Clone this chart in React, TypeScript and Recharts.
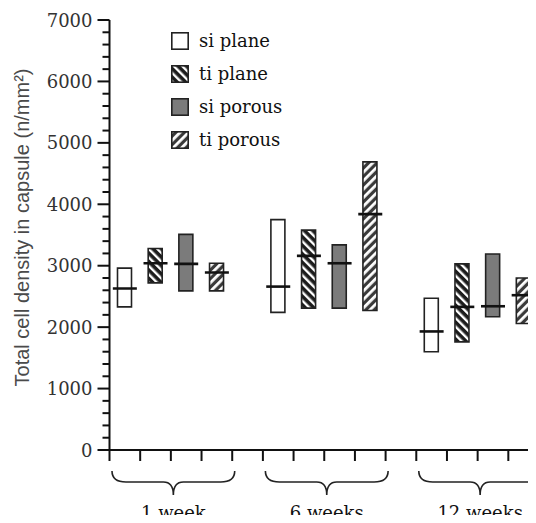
import React from 'react';
import {
  ComposedChart,
  Bar,
  Scatter,
  Cell,
  XAxis,
  YAxis,
  Legend,
  ReferenceArea,
} from 'recharts';

// ---- data ----
const groups = ['1 week', '6 weeks', '12 weeks'];
const series = ['si plane', 'ti plane', 'si porous', 'ti porous'];

// per series, one value per group
const siPlaneLow = [2330, 2240, 1600];
const siPlaneHigh = [2960, 3750, 2470];
const siPlaneMedian = [2630, 2660, 1930];

const tiPlaneLow = [2720, 2310, 1760];
const tiPlaneHigh = [3280, 3580, 3030];
const tiPlaneMedian = [3040, 3160, 2330];

const siPorousLow = [2590, 2310, 2170];
const siPorousHigh = [3510, 3340, 3190];
const siPorousMedian = [3030, 3040, 2340];

const tiPorousLow = [2590, 2270, 2060];
const tiPorousHigh = [3040, 4690, 2800];
const tiPorousMedian = [2890, 3840, 2520];

const yTicks = Array.from({ length: 36 }, (_, i) => i * 200);
const yDomain = [0, 7000];

// ---- derived ----
const lows = [siPlaneLow, tiPlaneLow, siPorousLow, tiPorousLow];
const highs = [siPlaneHigh, tiPlaneHigh, siPorousHigh, tiPorousHigh];
const medians = [siPlaneMedian, tiPlaneMedian, siPorousMedian, tiPorousMedian];

const step = series.length + 1;
const xMax = groups.length * step - 1;
const xTicks = Array.from({ length: xMax + 1 }, (_, i) => i);

const rows = groups.flatMap((g, gi) =>
  series.map((s, si) => ({
    x: gi * step + si + 0.5,
    range: [lows[si][gi], highs[si][gi]],
    median: medians[si][gi],
    series: si,
    name: s,
    group: g,
  }))
);

const fills = ['#ffffff', 'url(#tiPlanePat)', '#7b7b7b', 'url(#tiPorousPat)'];
const serifFont = '"DejaVu Serif", serif';

const YTick = (props: any) => {
  const { x, y, payload } = props;
  const major = payload.value % 1000 === 0;
  return (
    <g>
      <line x1={x - (major ? 12 : 7)} x2={x} y1={y} y2={y} stroke="#111" strokeWidth={2} />
      {major && (
        <text x={x - 17} y={y + 6.5} textAnchor="end" fontFamily={serifFont} fontSize={18} fill="#333">
          {payload.value}
        </text>
      )}
    </g>
  );
};

const YLabel = (props: any) => {
  const vb = props.viewBox || { x: 0, y: 0, width: 0, height: 0 };
  const cx = vb.x + 12.5;
  const cy = vb.y + vb.height / 2 - 7.5;
  return (
    <text
      x={cx}
      y={cy}
      transform={`rotate(-90, ${cx}, ${cy})`}
      textAnchor="middle"
      dominantBaseline="central"
      fontFamily='"Liberation Sans", Arial, sans-serif'
      fontSize={20}
      fill="#4a4a4a"
    >
      Total cell density in capsule (n/mm²)
    </text>
  );
};

const Brace = (props: any) => {
  const { x, y, width, height, label } = props;
  const baseY = y + height;
  const L = x + 2.5;
  const R = x + width + 2.5;
  const M = (L + R) / 2;
  const y0 = baseY + 21;
  const y1 = baseY + 32;
  const y2 = baseY + 45;
  const d = `M ${L} ${y0} Q ${L} ${y1} ${L + 14} ${y1} L ${M - 10} ${y1} Q ${M} ${y1} ${M} ${y2} Q ${M} ${y1} ${M + 10} ${y1} L ${R - 14} ${y1} Q ${R} ${y1} ${R} ${y0}`;
  return (
    <g>
      <path d={d} fill="none" stroke="#222" strokeWidth={1.6} />
      <text x={M} y={baseY + 69} textAnchor="middle" fontFamily={serifFont} fontSize={18} fill="#111">
        {label}
      </text>
    </g>
  );
};

const MedianMark = (props: any) => {
  const { cx, cy } = props;
  if (cx == null || cy == null) return <g />;
  return <line x1={cx - 12} x2={cx + 12} y1={cy} y2={cy} stroke="#111" strokeWidth={2.6} />;
};

const LegendContent = () => (
  <div style={{ fontFamily: serifFont, fontSize: 18, color: '#111' }}>
    {series.map((s, i) => (
      <div key={s} style={{ display: 'flex', alignItems: 'center', height: 33 }}>
        <svg width={18} height={18} style={{ display: 'block' }}>
          <rect x={0.8} y={0.8} width={16.4} height={16.4} fill={fills[i]} stroke="#222" strokeWidth={1.6} />
        </svg>
        <span style={{ marginLeft: 10, lineHeight: '18px' }}>{s}</span>
      </div>
    ))}
  </div>
);

export default function App() {
  return (
    <div style={{ width: 528, height: 515, overflow: 'hidden', marginBottom: -8, background: '#fff' }}>
      <ComposedChart
        width={560}
        height={540}
        data={rows}
        margin={{ top: 12, right: 29, bottom: 78, left: 1.5 }}
      >
        <defs>
          <pattern id="tiPlanePat" patternUnits="userSpaceOnUse" width={6} height={6} patternTransform="rotate(-45)">
            <rect width={6} height={6} fill="#1c1c1c" />
            <rect x={0} y={0} width={2.4} height={6} fill="#ffffff" />
          </pattern>
          <pattern id="tiPorousPat" patternUnits="userSpaceOnUse" width={6} height={6} patternTransform="rotate(45)">
            <rect width={6} height={6} fill="#3a3a3a" />
            <rect x={0} y={0} width={2.8} height={6} fill="#ffffff" />
          </pattern>
        </defs>
        <XAxis
          type="number"
          dataKey="x"
          domain={[0, xMax]}
          ticks={xTicks}
          interval={0}
          tick={() => <g />}
          tickSize={11}
          tickLine={{ stroke: '#111', strokeWidth: 2 }}
          axisLine={{ stroke: '#111', strokeWidth: 2 }}
          height={20}
          allowDataOverflow
        />
        <YAxis
          type="number"
          domain={yDomain}
          ticks={yTicks}
          interval={0}
          width={100}
          tickSize={0}
          tickMargin={0}
          tickLine={false}
          tick={<YTick />}
          axisLine={{ stroke: '#111', strokeWidth: 2 }}
          label={YLabel}
          allowDataOverflow
        />
        {groups.map((g, gi) => (
          <ReferenceArea
            key={g}
            x1={gi * step}
            x2={gi * step + series.length}
            ifOverflow="visible"
            shape={(p: any) => <Brace {...p} label={g} />}
          />
        ))}
        <Bar dataKey="range" barSize={14} stroke="#222" strokeWidth={1.6} isAnimationActive={false}>
          {rows.map((r, i) => (
            <Cell key={i} fill={fills[r.series]} />
          ))}
        </Bar>
        <Scatter dataKey="median" shape={<MedianMark />} isAnimationActive={false} />
        <Legend
          layout="vertical"
          align="center"
          verticalAlign="middle"
          wrapperStyle={{ top: 16, left: 163, width: 'auto', height: 'auto' }}
          content={() => <LegendContent />}
        />
      </ComposedChart>
    </div>
  );
}
